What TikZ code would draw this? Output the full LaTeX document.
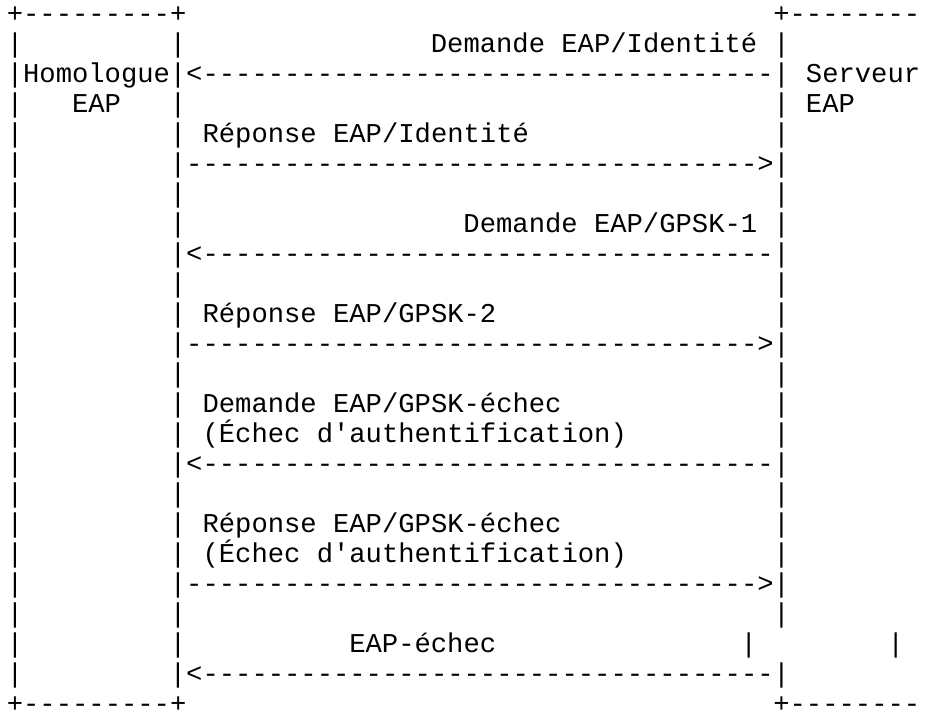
\documentclass[tikz,border=0pt]{standalone}
\usepackage{fontspec}
\setmonofont{Liberation Mono}
\newcommand{\toPeer}{<-----------------------------------}
\newcommand{\toServer}{----------------------------------->}
\tikzset{ascii/.style={anchor=base west, inner sep=0pt, outer sep=0pt,
    font=\ttfamily\fontsize{13.6}{15}\selectfont}}

\begin{document}
\begin{tikzpicture}[x=8.155pt, y=-15pt]
        % Page, one column and one row per unit
        \useasboundingbox (0,0) rectangle (56.72,23.933);
        \clip (0,0) rectangle (56.72,23.933);

        \begin{scope}[shift={(0.42,-0.2333)}]
        % Boxes
        \node[ascii] (peertop) at (0,1) {+---------+};
        \node[ascii] (srvtop) at (47,1) {+--------};
        \node[ascii] (peerbot) at (0,24) {+---------+};
        \node[ascii] (srvbot) at (47,24) {+--------};
        \foreach \r in {2,...,23}{
          \node[ascii] (peerl\r) at (0,\r) {|};
          \node[ascii] (peerr\r) at (10,\r) {|};
        }
        \foreach \r in {2,...,21,23}
          \node[ascii] (srvl\r) at (47,\r) {|};
        \node[ascii] (peer) at (1,3) {Homologue};
        \node[ascii] (peereap) at (4,4) {EAP};
        \node[ascii] (srv) at (49,3) {Serveur};
        \node[ascii] (srveap) at (49,4) {EAP};

        % Messages
        \foreach \r in {3,9,16,23}
          \node[ascii] (req\r) at (11,\r) {\toPeer};
        \foreach \r in {6,12,20}
          \node[ascii] (resp\r) at (11,\r) {\toServer};
        \node[ascii] (reqid) at (26,2) {Demande EAP/Identité};
        \node[ascii] (respid) at (12,5) {Réponse EAP/Identité};
        \node[ascii] (gpska) at (28,8) {Demande EAP/GPSK-1};
        \node[ascii] (gpskb) at (12,11) {Réponse EAP/GPSK-2};
        \node[ascii] (reqfail) at (12,14) {Demande EAP/GPSK-échec};
        \node[ascii] (reqwhy) at (12,15) {(Échec d'authentification)};
        \node[ascii] (respfail) at (12,18) {Réponse EAP/GPSK-échec};
        \node[ascii] (respwhy) at (12,19) {(Échec d'authentification)};
        \node[ascii] (fail) at (21,22) {EAP-échec};
        \node[ascii] (failbar) at (45,22) {|};
        \node[ascii] (failend) at (54,22) {|};
        \end{scope}
\end{tikzpicture}
\end{document}
